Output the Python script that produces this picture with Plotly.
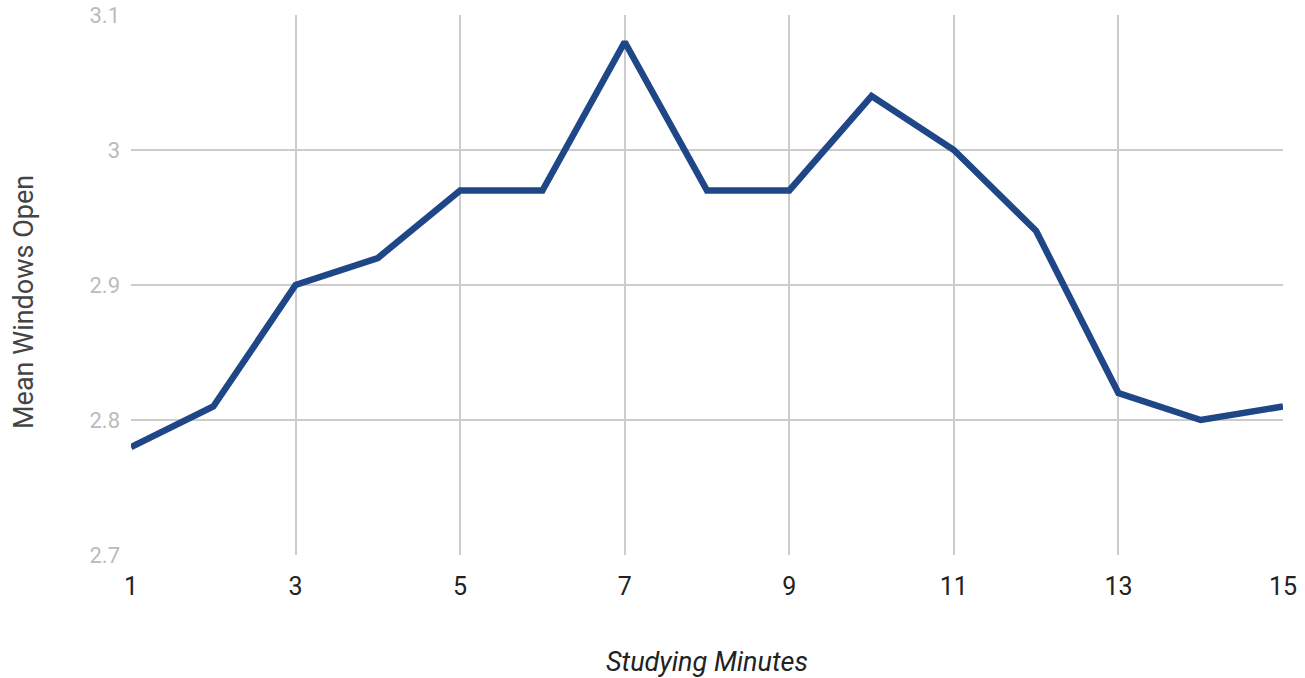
import plotly.graph_objects as go

minutes = list(range(1, 16))
mean_windows = [2.78, 2.81, 2.90, 2.92, 2.97, 2.97, 3.08, 2.97, 2.97, 3.04, 3.00, 2.94, 2.82, 2.80, 2.81]
x_ticks = [1, 3, 5, 7, 9, 11, 13, 15]
y_ticks = [2.7, 2.8, 2.9, 3.0, 3.1]
y_labels = ["2.7", "2.8", "2.9", "3", "3.1"]

fig = go.Figure()
fig.add_trace(go.Scatter(
    x=minutes, y=mean_windows, mode="lines",
    line=dict(color="#1f4788", width=6.5),
    hoverinfo="x+y", showlegend=False, cliponaxis=False,
))

fig.update_layout(
    width=1305, height=678,
    margin=dict(l=131, r=22, t=15, b=123),
    paper_bgcolor="white", plot_bgcolor="white",
    font=dict(family="Roboto", color="#222"),
    xaxis=dict(
        range=[1, 15], tickvals=x_ticks, ticktext=[str(v) for v in x_ticks],
        showgrid=True, gridcolor="#cccccc", gridwidth=2, zeroline=False,
        showline=False, tickfont=dict(size=25, color="#222"), ticks="",
        ticklabelstandoff=14, automargin=False,
        title=dict(text="<i>Studying Minutes</i>", font=dict(size=27, color="#222"), standoff=52),
    ),
    yaxis=dict(
        range=[2.7, 3.1], tickvals=y_ticks, ticktext=y_labels,
        showgrid=True, gridcolor="#cccccc", gridwidth=2, zeroline=False,
        showline=False, tickfont=dict(size=22, color="#bbbbbb"), ticks="",
        ticklabelstandoff=10, automargin=False,
    ),
    annotations=[dict(
        text="Mean Windows Open", textangle=-90,
        xref="paper", yref="paper", x=0, y=0.5,
        xanchor="center", yanchor="middle", xshift=-107, yshift=-17,
        showarrow=False, font=dict(size=27, color="#444"),
    )],
)

fig.write_html("out.html", config={"displayModeBar": False},
               post_script="document.body.style.margin='0';")
